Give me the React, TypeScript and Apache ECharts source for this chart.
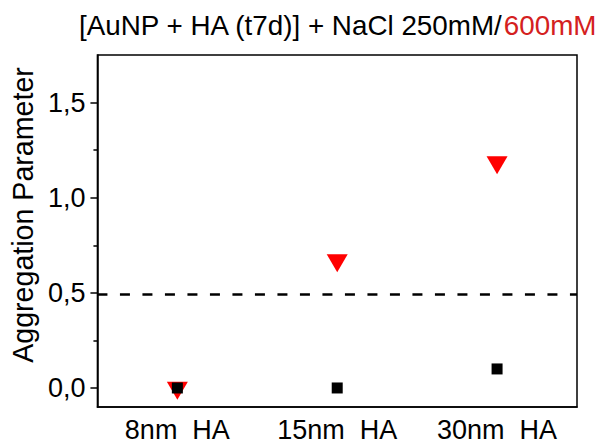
import React, { useEffect, useRef } from "react";
import * as echarts from "echarts";

// Samples along the x axis
const categories = ["8nm  HA", "15nm  HA", "30nm  HA"];
// Aggregation parameter, NaCl 250 mM (black squares)
const nacl250 = [0.0, 0.0, 0.1];
// Aggregation parameter, NaCl 600 mM (red down-triangles)
const nacl600 = [-0.015, 0.655, 1.17];
// Threshold drawn as a dashed line
const threshold = 0.49;
// Y axis ticks
const majorTicks = [0, 0.5, 1, 1.5];
const minorTicks = [0.25, 0.75, 1.25];

const FONT = "Liberation Sans, Arial, Helvetica, sans-serif";

export default function App() {
  const ref = useRef<HTMLDivElement>(null);

  useEffect(() => {
    document.body.style.margin = "0";
    if (!ref.current) return;
    const chart = echarts.init(ref.current, null, { renderer: "svg" });
    const yBase = {
      type: "value" as const,
      min: -0.1,
      max: 1.75,
      position: "left" as const,
      splitLine: { show: false },
    };
    chart.setOption({
      animation: false,
      backgroundColor: "#ffffff",
      textStyle: { fontFamily: FONT },
      title: {
        text: "{a|[AuNP + HA (t7d)] + NaCl 250mM/}{b|600mM}",
        left: 79,
        top: 11,
        padding: 0,
        textStyle: {
          fontWeight: "normal",
          rich: {
            a: { fontSize: 27.8, color: "#000", fontFamily: FONT, fontWeight: "normal" },
            b: { fontSize: 27.8, color: "#d42020", fontFamily: FONT, fontWeight: "normal" },
          },
        },
      },
      grid: {
        left: 95,
        right: 22,
        top: 55,
        bottom: 36,
        show: true,
        borderColor: "#000",
        borderWidth: 1.5,
        backgroundColor: "transparent",
      },
      xAxis: {
        type: "category",
        data: categories,
        boundaryGap: true,
        axisLine: { onZero: false, lineStyle: { color: "#000", width: 1.5 } },
        axisTick: {
          alignWithLabel: true,
          length: 7,
          lineStyle: { color: "#000", width: 1.5 },
        },
        axisLabel: { color: "#000", fontSize: 27, fontFamily: FONT, margin: 9 },
        splitLine: { show: false },
      },
      yAxis: [
        {
          ...yBase,
          name: "Aggregation Parameter",
          nameLocation: "middle",
          nameGap: 58,
          nameRotate: 90,
          nameTextStyle: {
            color: "#000",
            fontSize: 28.6,
            fontFamily: FONT,
            padding: [0, 0, 0, 32],
          },
          axisLine: { show: true, onZero: false, lineStyle: { color: "#000", width: 1.5 } },
          axisTick: {
            show: true,
            customValues: majorTicks,
            length: 7,
            lineStyle: { color: "#000", width: 1.5 },
          },
          axisLabel: {
            show: true,
            customValues: majorTicks,
            color: "#000",
            fontSize: 27,
            fontFamily: FONT,
            margin: 12,
            formatter: (v: number) => v.toFixed(1).replace(".", ","),
          },
        },
        {
          ...yBase,
          axisLine: { show: false, onZero: false },
          axisTick: {
            show: true,
            customValues: minorTicks,
            length: 4,
            lineStyle: { color: "#000", width: 1.5 },
          },
          axisLabel: { show: false },
        },
      ],
      series: [
        {
          name: "NaCl 600mM",
          type: "scatter",
          data: nacl600,
          symbol: "triangle",
          symbolRotate: 180,
          symbolSize: [21, 18],
          itemStyle: { color: "#ff0000", opacity: 1 },
          markLine: {
            silent: true,
            symbol: "none",
            label: { show: false },
            lineStyle: { color: "#000", width: 2.5, type: [10, 12.5] },
            data: [{ yAxis: threshold }],
          },
        },
        {
          name: "NaCl 250mM",
          type: "scatter",
          data: nacl250,
          symbol: "rect",
          symbolSize: 11,
          itemStyle: { color: "#000", opacity: 1 },
        },
      ],
    });
    return () => chart.dispose();
  }, []);

  return <div ref={ref} style={{ width: 599, height: 443 }} />;
}
